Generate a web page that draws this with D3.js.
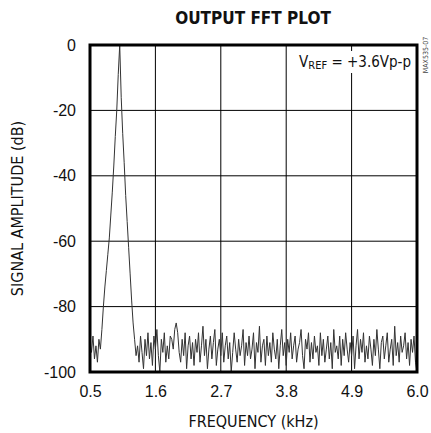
<!DOCTYPE html>
<html lang="en">
<head>
  <meta charset="UTF-8">
  <title>Output FFT Plot</title>
  <script src="https://d3js.org/d3.v7.min.js"></script>
  <style>
    body { margin: 0; background: #fff; }
    svg { display: block; font-family: "Liberation Sans Narrow", "DejaVu Sans Condensed", "Liberation Sans", sans-serif; }
  </style>
</head>
<body>
  <div id="chart"></div>

  <script>
    // FFT bins: start frequency and bin spacing (kHz)
    const freqStart = 0.5;
    const freqStep = 0.025;

    // amplitude per bin (dB)
    const amplitude = [
      -91, -94, -89, -96, -92, -97, -90, -93, -87, -80,
      -74, -69, -64, -59, -52, -45, -37, -28, -20, -9,
      0, -16, -27, -36, -46, -54, -62, -70, -78, -85,
      -90, -95,
      -92, -97, -89, -94, -99, -90, -95, -88, -96, -91,
      -98, -89, -93, -87, -95, -100, -90, -94, -88, -97,
      -92, -96, -89, -90, -93, -87, -85, -88, -94, -97,
      -90, -95, -88, -99, -92, -89, -96, -91, -98, -90,
      -94, -88, -97, -92, -86, -95, -90, -99, -93, -89,
      -96, -91, -87, -98, -93, -90, -95, -88, -97, -92,
      -89, -96, -91, -100, -94, -88, -93, -97, -90, -95,
      -92, -87, -98, -91, -95, -89, -96, -93, -88, -99,
      -91, -94, -86, -97, -92, -90, -98, -89, -95, -91,
      -97, -88, -93, -96, -90, -99, -92, -87, -95, -91,
      -98, -90, -94, -88, -96, -92, -89, -97, -93, -91,
      -87, -95, -99, -90, -93, -88, -97, -91, -96, -89,
      -94, -92, -98, -88, -95, -90, -97, -93, -89, -96,
      -91, -99, -87, -94, -92, -96, -89, -98, -90, -95,
      -88, -93, -97, -91, -95, -89, -99, -92, -87, -96,
      -90, -94, -88, -97, -92, -96, -89, -93, -98, -90,
      -95, -87, -93, -99, -91, -89, -96, -92, -88, -97,
      -93, -90, -98, -86, -95, -91, -97, -89, -94, -92,
      -88, -96, -91, -98, -90, -94, -89, -97, -100
    ];

    const xTicks = [0.5, 1.6, 2.7, 3.8, 4.9, 6.0];
    const yTicks = [0, -20, -40, -60, -80, -100];

    const width = 431, height = 433;
    const margin = {top: 45, right: 14, bottom: 61, left: 90};
    const plotW = width - margin.left - margin.right;
    const plotH = height - margin.top - margin.bottom;

    const svg = d3.select("#chart").append("svg")
        .attr("width", width)
        .attr("height", height);

    const x = d3.scaleLinear().domain([0.5, 6.0]).range([0, plotW]);
    const y = d3.scaleLinear().domain([-100, 0]).range([plotH, 0]);

    const g = svg.append("g")
        .attr("transform", `translate(${margin.left},${margin.top})`);

    // grid
    g.append("g")
      .selectAll("line")
      .data(xTicks.slice(1, -1))
      .join("line")
        .attr("x1", d => x(d)).attr("x2", d => x(d))
        .attr("y1", 0).attr("y2", plotH)
        .attr("stroke", "#000").attr("stroke-width", 1);

    g.append("g")
      .selectAll("line")
      .data(yTicks.slice(1, -1))
      .join("line")
        .attr("x1", 0).attr("x2", plotW)
        .attr("y1", d => y(d)).attr("y2", d => y(d))
        .attr("stroke", "#000").attr("stroke-width", 1);

    // spectrum
    const line = d3.line()
        .x((d, i) => x(freqStart + i * freqStep))
        .y(d => y(d));

    g.append("path")
      .datum(amplitude)
      .attr("d", line)
      .attr("fill", "none")
      .attr("stroke", "#333")
      .attr("stroke-width", 1)
      .attr("stroke-linejoin", "round");

    // VREF note
    const note = g.append("g").attr("transform", `translate(${plotW - 6}, 22)`);
    note.append("rect")
      .attr("x", -114).attr("y", -16)
      .attr("width", 116).attr("height", 22)
      .attr("fill", "#fff");
    const noteText = note.append("text")
      .attr("text-anchor", "end")
      .attr("font-size", 15)
      .attr("fill", "#111");
    noteText.append("tspan").text("V");
    noteText.append("tspan").attr("font-size", 11).attr("dy", 2).text("REF");
    noteText.append("tspan").attr("dy", -2).text(" = +3.6Vp-p");

    // frame
    g.append("rect")
      .attr("width", plotW).attr("height", plotH)
      .attr("fill", "none")
      .attr("stroke", "#000").attr("stroke-width", 3);

    // axes
    const xAxis = g.append("g")
      .attr("transform", `translate(0,${plotH})`)
      .call(d3.axisBottom(x).tickValues(xTicks).tickFormat(d3.format(".1f")).tickSize(0).tickPadding(14));
    const yAxis = g.append("g")
      .call(d3.axisLeft(y).tickValues(yTicks).tickFormat(d => d).tickSize(0).tickPadding(14));

    [xAxis, yAxis].forEach(a => {
      a.select(".domain").remove();
      a.selectAll("text").attr("font-size", 16).attr("fill", "#111")
        .style("font-family", "inherit");
    });

    // titles
    svg.append("text")
      .attr("x", 253).attr("y", 24)
      .attr("text-anchor", "middle")
      .attr("font-size", 17).attr("font-weight", "bold")
      .attr("fill", "#111")
      .text("OUTPUT FFT PLOT");

    svg.append("text")
      .attr("x", margin.left + plotW / 2).attr("y", 427)
      .attr("text-anchor", "middle")
      .attr("font-size", 16).attr("fill", "#111")
      .text("FREQUENCY (kHz)");

    svg.append("text")
      .attr("transform", `translate(23,${margin.top + plotH / 2}) rotate(-90)`)
      .attr("text-anchor", "middle")
      .attr("font-size", 16).attr("fill", "#111")
      .text("SIGNAL AMPLITUDE (dB)");

    svg.append("text")
      .attr("transform", "translate(428,55) rotate(-90)")
      .attr("text-anchor", "middle")
      .attr("font-size", 7).attr("fill", "#444")
      .text("MAX535-07");
  </script>
</body>
</html>
